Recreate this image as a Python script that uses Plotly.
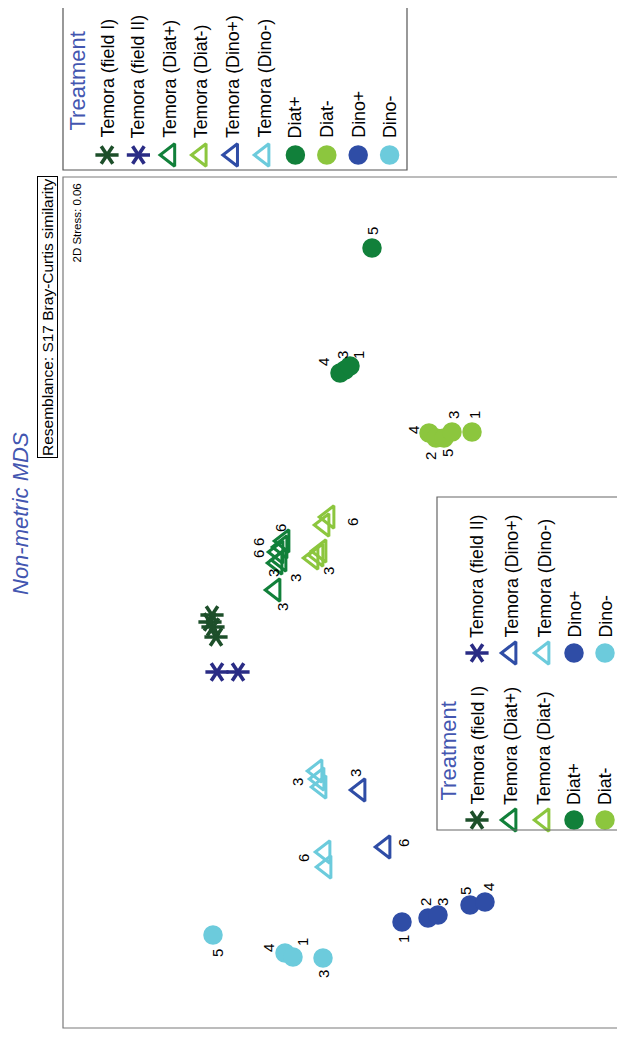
import plotly.graph_objects as go

# ---- data (positions on the rotated MDS plane, in plot units) ----
field1_x = [210, 212, 213, 216]
field1_y = [622, 615, 627, 637]

field2_x = [217, 238]
field2_y = [672, 672]

tdiatp_x = [275, 277, 281, 278, 282, 284]
tdiatp_y = [590, 563, 560, 552, 547, 541]
tdiatp_lab = ["3", "3", "3", "6", "6", "6"]
tdiatp_lx = [282, 273, 295, 258, 258, 280]
tdiatp_ly = [607, 573, 578, 542, 554, 528]

tdiatm_x = [313, 318, 321, 324, 329]
tdiatm_y = [558, 555, 551, 525, 517]
tdiatm_lab = ["3", "6"]
tdiatm_lx = [328, 352]
tdiatm_ly = [571, 522]

tdinop_x = [360, 385]
tdinop_y = [790, 847]
tdinop_lab = ["3", "6"]
tdinop_lx = [355, 403]
tdinop_ly = [773, 843]

tdinom_x = [317, 319, 321, 325, 326]
tdinom_y = [771, 779, 787, 852, 867]
tdinom_lab = ["3", "6"]
tdinom_lx = [297, 303]
tdinom_ly = [782, 858]

diatp_x = [372, 340, 345, 350]
diatp_y = [248, 373, 370, 366]
diatp_lab = ["5", "4", "3", "1"]
diatp_lx = [372, 323, 342, 358]
diatp_ly = [231, 362, 355, 355]

diatm_x = [429, 436, 444, 452, 472]
diatm_y = [433, 438, 438, 432, 432]
diatm_lab = ["4", "2", "5", "3", "1"]
diatm_lx = [413, 430, 447, 453, 474]
diatm_ly = [430, 456, 453, 415, 415]

dinop_x = [402, 428, 438, 470, 485]
dinop_y = [922, 918, 915, 905, 902]
dinop_lab = ["1", "2", "3", "5", "4"]
dinop_lx = [403, 425, 442, 465, 488]
dinop_ly = [939, 902, 902, 891, 887]

dinom_x = [213, 285, 293, 323]
dinom_y = [935, 953, 957, 958]
dinom_lab = ["5", "4", "1", "3"]
dinom_lx = [217, 268, 302, 323]
dinom_ly = [953, 948, 942, 974]

treatments = ["Temora (field I)", "Temora (field II)", "Temora (Diat+)", "Temora (Diat-)",
              "Temora (Dino+)", "Temora (Dino-)", "Diat+", "Diat-", "Dino+", "Dino-"]

# ---- styles ----
C_F1 = "#1d4f2a"
C_F2 = "#2a2c85"
C_DP = "#11803a"
C_DM = "#8cc63e"
C_NP = "#2f4da6"
C_NM = "#6ccbdc"
colors = [C_F1, C_F2, C_DP, C_DM, C_NP, C_NM, C_DP, C_DM, C_NP, C_NM]
kinds = ["ast", "ast", "tri", "tri", "tri", "tri", "dot", "dot", "dot", "dot"]
FONT = "Arial"
NARROW = "Liberation Sans Narrow, Arial Narrow, Arial"
LEG_FS = 17.8

fig = go.Figure()


def add_marks(xs, ys, kind, color):
    if kind == "ast":
        for sym in ("y-up-open", "y-down-open"):
            fig.add_trace(go.Scatter(x=xs, y=ys, mode="markers", showlegend=False,
                                     hoverinfo="skip",
                                     marker=dict(symbol=sym, size=14.5, angle=90,
                                                 color=color, line=dict(color=color, width=3.6))))
    elif kind == "tri":
        fig.add_trace(go.Scatter(x=xs, y=ys, mode="markers", showlegend=False, hoverinfo="skip",
                                 marker=dict(symbol="triangle-left-open", size=19.5, color=color,
                                             line=dict(color=color, width=3))))
    else:
        fig.add_trace(go.Scatter(x=xs, y=ys, mode="markers", showlegend=False, hoverinfo="skip",
                                 marker=dict(symbol="circle", size=19.5, color=color,
                                             line=dict(width=0))))


def add_labels(lxs, lys, labs):
    for lx, ly, t in zip(lxs, lys, labs):
        fig.add_annotation(x=lx, y=ly, text=t, showarrow=False, textangle=-90,
                           xanchor="center", yanchor="middle",
                           font=dict(family=FONT, size=15, color="black"))


# plot frame
fig.add_shape(type="rect", x0=63, y0=177, x1=700, y1=1028,
              line=dict(color="#7a7a7a", width=1.2), layer="below")

add_marks(field1_x, field1_y, "ast", C_F1)
add_marks(field2_x, field2_y, "ast", C_F2)
add_marks(tdiatp_x, tdiatp_y, "tri", C_DP)
add_marks(tdiatm_x, tdiatm_y, "tri", C_DM)
add_marks(tdinop_x, tdinop_y, "tri", C_NP)
add_marks(tdinom_x, tdinom_y, "tri", C_NM)
add_marks(diatp_x, diatp_y, "dot", C_DP)
add_marks(diatm_x, diatm_y, "dot", C_DM)
add_marks(dinop_x, dinop_y, "dot", C_NP)
add_marks(dinom_x, dinom_y, "dot", C_NM)

add_labels(tdiatp_lx, tdiatp_ly, tdiatp_lab)
add_labels(tdiatm_lx, tdiatm_ly, tdiatm_lab)
add_labels(tdinop_lx, tdinop_ly, tdinop_lab)
add_labels(tdinom_lx, tdinom_ly, tdinom_lab)
add_labels(diatp_lx, diatp_ly, diatp_lab)
add_labels(diatm_lx, diatm_ly, diatm_lab)
add_labels(dinop_lx, dinop_ly, dinop_lab)
add_labels(dinom_lx, dinom_ly, dinom_lab)

TITLE_BLUE = "#4356b0"

# ---- top legend ----
fig.add_shape(type="rect", x0=63, y0=-10, x1=407, y1=170,
              line=dict(color="#555555", width=1.2))
fig.add_annotation(x=77, y=133, text="Treatment", showarrow=False, textangle=-90,
                   xanchor="center", yanchor="bottom",
                   font=dict(family=FONT, size=22, color=TITLE_BLUE))
for i, name in enumerate(treatments):
    lx = 107 + i * 31.4
    add_marks([lx], [155], kinds[i], colors[i])
    fig.add_annotation(x=lx, y=139, text=name, showarrow=False, textangle=-90,
                       xanchor="center", yanchor="bottom", borderpad=0,
                       font=dict(family=FONT, size=LEG_FS, color="black"))

# ---- inner legend ----
fig.add_shape(type="rect", x0=437, y0=497, x1=619, y1=830,
              line=dict(color="#666666", width=1.2))
fig.add_annotation(x=448, y=803, text="Treatment", showarrow=False, textangle=-90,
                   xanchor="center", yanchor="bottom",
                   font=dict(family=FONT, size=22, color=TITLE_BLUE))
col1 = [0, 2, 3, 6, 7]
col2 = [1, 4, 5, 8, 9]
row_x = [477, 511, 544, 574, 605]
for r, (a, b) in enumerate(zip(col1, col2)):
    for idx, sy, ty in ((a, 820, 806), (b, 653, 639)):
        add_marks([row_x[r]], [sy], kinds[idx], colors[idx])
        fig.add_annotation(x=row_x[r], y=ty, text=treatments[idx], showarrow=False,
                           textangle=-90, xanchor="center", yanchor="bottom", borderpad=0,
                           font=dict(family=FONT, size=LEG_FS, color="black"))

# ---- titles ----
fig.add_annotation(x=20, y=514, text="<i>Non-metric MDS</i>", showarrow=False, textangle=-90,
                   xanchor="center", yanchor="middle",
                   font=dict(family=FONT, size=22, color=TITLE_BLUE))
fig.add_annotation(x=47, y=176, text="Resemblance: S17 Bray-Curtis similarity", showarrow=False,
                   textangle=-90, xanchor="center", yanchor="top",
                   bordercolor="black", borderwidth=1, borderpad=1, bgcolor="white",
                   font=dict(family=NARROW, size=15.5, color="black"))
fig.add_annotation(x=76, y=182, text="2D Stress: 0.06", showarrow=False, textangle=-90,
                   xanchor="center", yanchor="top",
                   font=dict(family=FONT, size=11.5, color="black"))

# page body has an 8px margin: size the figure and ranges so 1 unit = 1 window pixel
fig.update_layout(
    width=617, height=1033,
    margin=dict(l=0, r=0, t=0, b=0),
    paper_bgcolor="white", plot_bgcolor="white",
    xaxis=dict(range=[8, 625], visible=False, fixedrange=True),
    yaxis=dict(range=[1041, 8], visible=False, fixedrange=True),
    showlegend=False,
)

fig.write_html("out.html")
